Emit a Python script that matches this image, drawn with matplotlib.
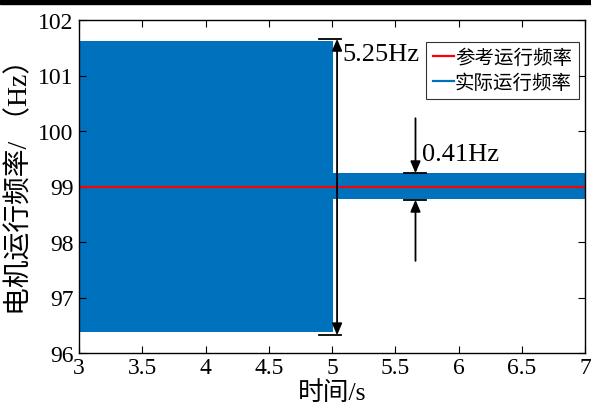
import numpy as np
import matplotlib
matplotlib.use("Agg")
import matplotlib.pyplot as plt
from matplotlib.lines import Line2D
from matplotlib.patches import Rectangle

plt.rcParams['font.family'] = ['Liberation Serif', 'Noto Sans CJK SC']
plt.rcParams['axes.unicode_minus'] = False

# envelope of the measured frequency (dense oscillation drawn as a band)
t_env = [3.0, 5.01, 5.01, 7.0]
f_upper = [101.63, 101.63, 99.235, 99.235]
f_lower = [96.37, 96.37, 98.77, 98.77]

# reference frequency
t_ref = [3.0, 7.0]
f_ref = [99.0, 99.0]

xticks = [3, 3.5, 4, 4.5, 5, 5.5, 6, 6.5, 7]
xticklabels = ['3', '3.5', '4', '4.5', '5', '5.5', '6', '6.5', '7']
yticks = [96, 97, 98, 99, 100, 101, 102]

blue = '#0072BD'
red = '#FF0000'

fig = plt.figure(figsize=(5.91, 4.06), dpi=100)
ax = fig.add_axes([79/591, 1 - 354/406, (585-79)/591, (354-21)/406])

ax.fill_between(t_env, f_lower, f_upper, color=blue, linewidth=0)
ax.plot(t_ref, f_ref, color=red, linewidth=1.6)

ax.set_xlim(3, 7)
ax.set_ylim(96, 102)
ax.set_xticks(xticks)
ax.set_xticklabels(xticklabels)
ax.set_yticks(yticks)
ax.tick_params(direction='in', top=True, right=True, labelsize=17, length=5,
               width=0.8, pad=4, colors='black')
ax.tick_params(axis='x', pad=3)
for sp in ax.spines.values():
    sp.set_linewidth(1.0)

ax.set_xlabel('时间/s', fontsize=18.5)
ax.xaxis.set_label_coords(0.5, -0.08)
ax.set_ylabel('电机运行频率/ （Hz）', fontsize=20)
ax.yaxis.set_label_coords(-0.09, 0.52)

# 5.25Hz annotation
ak = dict(arrowstyle='-|>,head_length=0.7,head_width=0.3', color='black',
          lw=1.3, shrinkA=0, shrinkB=0)
ax.annotate('', xy=(5.04, 101.66), xytext=(5.04, 99.0), arrowprops=ak)
ax.annotate('', xy=(5.04, 96.32), xytext=(5.04, 99.0), arrowprops=ak)
ax.plot([4.90, 5.07], [101.66, 101.66], color='black', lw=1.3)
ax.plot([4.90, 5.07], [96.32, 96.32], color='black', lw=1.3)
ax.text(5.08, 101.38, '5.25Hz', fontsize=19, va='center', ha='left')

# 0.41Hz annotation
ax.annotate('', xy=(5.66, 99.24), xytext=(5.66, 100.23), arrowprops=ak)
ax.annotate('', xy=(5.66, 98.76), xytext=(5.66, 97.66), arrowprops=ak)
ax.plot([5.57, 5.74], [99.24, 99.24], color='black', lw=1.3)
ax.plot([5.57, 5.74], [98.76, 98.76], color='black', lw=1.3)
ax.text(5.71, 99.58, '0.41Hz', fontsize=19, va='center', ha='left')

handles = [Line2D([], [], color=red, lw=1.6), Line2D([], [], color=blue, lw=1.6)]
leg = ax.legend(handles, ['参考运行频率', '实际运行频率'], loc='upper right',
                bbox_to_anchor=(0.988, 0.935), fontsize=14, frameon=True,
                fancybox=False, edgecolor='black', handlelength=1.1,
                handletextpad=0.05, borderpad=0.35, labelspacing=0.35,
                borderaxespad=0)
leg.get_frame().set_linewidth(0.8)

# dark strip along the top edge of the image
fig.patches.append(Rectangle((0, 1 - 5/406), 1, 5/406, transform=fig.transFigure,
                             color='black', zorder=10))

fig.savefig('out.png', dpi=100)
